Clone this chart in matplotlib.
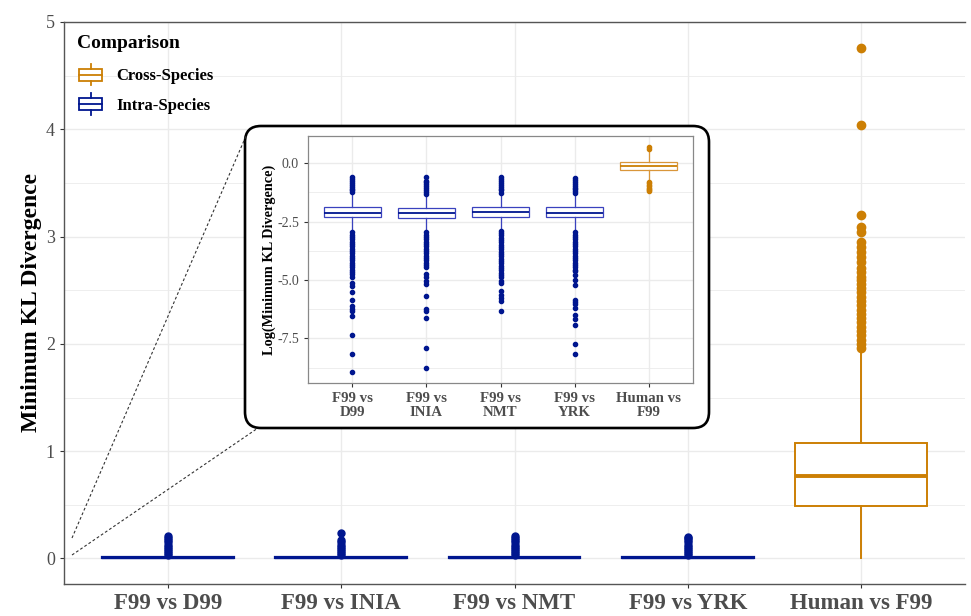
import matplotlib
matplotlib.use("Agg")
import matplotlib.pyplot as plt
from matplotlib.patches import Patch, Rectangle, FancyBboxPatch
from matplotlib.lines import Line2D
from matplotlib.legend_handler import HandlerBase
from matplotlib.ticker import MultipleLocator

plt.rcParams['font.family'] = ['Liberation Serif', 'DejaVu Serif']
plt.rcParams['axes.unicode_minus'] = False

# ---- data ----
categories = ["F99 vs D99", "F99 vs INIA", "F99 vs NMT", "F99 vs YRK", "Human vs F99"]
inset_labels = ["F99 vs\nD99", "F99 vs\nINIA", "F99 vs\nNMT", "F99 vs\nYRK", "Human vs\nF99"]
groups = ["Intra-Species", "Intra-Species", "Intra-Species", "Intra-Species", "Cross-Species"]

# main panel: minimum KL divergence (linear)
kl_q1 = [0.004, 0.004, 0.005, 0.004, 0.49]
kl_med = [0.007, 0.007, 0.008, 0.007, 0.77]
kl_q3 = [0.012, 0.011, 0.013, 0.012, 1.08]
kl_lo = [0.0, 0.0, 0.0, 0.0, 0.0]
kl_hi = [0.025, 0.024, 0.026, 0.025, 1.94]
kl_out_d99 = [0.03, 0.05, 0.07, 0.09, 0.11, 0.13, 0.15, 0.17, 0.19, 0.21]
kl_out_inia = [0.03, 0.05, 0.07, 0.09, 0.11, 0.13, 0.15, 0.17, 0.24]
kl_out_nmt = [0.03, 0.05, 0.07, 0.09, 0.11, 0.13, 0.15, 0.17, 0.19, 0.21]
kl_out_yrk = [0.03, 0.05, 0.07, 0.09, 0.11, 0.13, 0.15, 0.17, 0.19, 0.20]
kl_out_human = [1.96, 2.00, 2.04, 2.08, 2.12, 2.16, 2.20, 2.24, 2.28, 2.32, 2.36,
                2.40, 2.44, 2.48, 2.52, 2.56, 2.60, 2.62, 2.67, 2.71, 2.76, 2.81,
                2.86, 2.90, 2.95, 3.04, 3.09, 3.20, 4.04, 4.76]
kl_out = [kl_out_d99, kl_out_inia, kl_out_nmt, kl_out_yrk, kl_out_human]

# inset: log10 of minimum KL divergence
log_q1 = [-2.32, -2.35, -2.28, -2.30, -0.29]
log_med = [-2.12, -2.14, -2.07, -2.12, -0.13]
log_q3 = [-1.88, -1.92, -1.85, -1.88, 0.04]
log_lo = [-2.92, -2.92, -2.85, -2.92, -0.76]
log_hi = [-1.25, -1.34, -1.29, -1.31, 0.50]
log_out_d99 = [-0.60, -0.68, -0.76, -0.84, -0.92, -1.00, -1.08, -1.16, -1.21,
               -2.95, -3.05, -3.15, -3.25, -3.35, -3.45, -3.55, -3.65, -3.75, -3.85,
               -3.95, -4.05, -4.15, -4.25, -4.35, -4.45, -4.55, -4.65, -4.75, -4.85,
               -5.13, -5.27, -5.51, -5.84, -6.13, -6.23, -6.31, -6.55, -7.37, -8.16, -8.93]
log_out_inia = [-0.57, -0.74, -0.82, -0.90, -0.98, -1.06, -1.14, -1.22, -1.31,
                -2.95, -3.05, -3.15, -3.25, -3.35, -3.45, -3.55, -3.65, -3.75, -3.85,
                -3.95, -4.05, -4.15, -4.25, -4.35, -4.42,
                -4.74, -4.85, -5.06, -5.17, -5.70, -6.23, -6.31, -6.63, -7.92, -8.76]
log_out_nmt = [-0.60, -0.68, -0.76, -0.84, -0.92, -1.00, -1.08, -1.16, -1.26,
               -2.88, -2.98, -3.08, -3.18, -3.28, -3.38, -3.48, -3.58, -3.68, -3.78,
               -3.88, -3.98, -4.08, -4.18, -4.28, -4.38, -4.48, -4.58, -4.68, -4.78, -4.85,
               -5.06, -5.13, -5.49, -5.63, -5.77, -5.91, -6.31]
log_out_yrk = [-0.64, -0.72, -0.80, -0.88, -0.96, -1.04, -1.12, -1.20, -1.28,
               -2.95, -3.05, -3.15, -3.25, -3.35, -3.45, -3.55, -3.65, -3.75, -3.85,
               -3.95, -4.05, -4.15, -4.25, -4.35, -4.45, -4.55, -4.63,
               -4.80, -4.99, -5.20, -5.84, -5.96, -6.03, -6.20, -6.48, -6.67, -6.94, -7.72, -8.16]
log_out_human = [0.61, 0.68, -0.80, -0.86, -0.92, -0.98, -1.04, -1.10, -1.16, -1.18]
log_out = [log_out_d99, log_out_inia, log_out_nmt, log_out_yrk, log_out_human]

colors = {"Cross-Species": "#CC7F04", "Intra-Species": "#00168F"}
light = {"Cross-Species": "#D9963A", "Intra-Species": "#3A42BE"}
GRID = "#EBEBEB"
TXT = "#4D4D4D"


def box_stats(q1, med, q3, lo, hi, out):
    return [dict(q1=a, med=b, q3=c, whislo=d, whishi=e, fliers=f)
            for a, b, c, d, e, f in zip(q1, med, q3, lo, hi, out)]


def draw_boxes(ax, stats, box_lw, med_lw, ms, edge, widths=0.76):
    for i, (st, g) in enumerate(zip(stats, groups)):
        c = colors[g]
        ax.bxp([st], positions=[i + 1], widths=widths, showcaps=False,
               patch_artist=True,
               boxprops=dict(facecolor="white", edgecolor=edge[g], linewidth=box_lw[i]),
               medianprops=dict(color=c, linewidth=med_lw[i], solid_capstyle="butt"),
               whiskerprops=dict(color=edge[g], linewidth=box_lw[i]),
               flierprops=dict(marker="o", markerfacecolor=c, markeredgecolor=c,
                               markersize=ms[i], linestyle="none"),
               zorder=3)


def style_axes(ax, major, minor):
    ax.set_facecolor("white")
    ax.yaxis.set_major_locator(MultipleLocator(major))
    ax.yaxis.set_minor_locator(MultipleLocator(minor))
    ax.grid(True, which="major", color=GRID, linewidth=1.0, zorder=0)
    ax.grid(True, which="minor", axis="y", color=GRID, linewidth=0.6, zorder=0)
    ax.set_axisbelow(True)
    ax.tick_params(which="minor", length=0)
    ax.tick_params(which="major", length=3, color="#333333", width=0.8)


class HandlerBox(HandlerBase):
    def create_artists(self, legend, orig_handle, xdescent, ydescent, width,
                       height, fontsize, trans):
        c = orig_handle.get_edgecolor()
        x0 = -xdescent
        ymid = -ydescent + height / 2
        bh = height * 0.55
        wh = height * 0.5
        rect = Rectangle((x0, ymid - bh / 2), width, bh, facecolor="white",
                         edgecolor=c, linewidth=1.3, transform=trans)
        med = Line2D([x0, x0 + width], [ymid, ymid], color=c, lw=1.3, transform=trans)
        xm = x0 + width / 2
        w1 = Line2D([xm, xm], [ymid - wh, ymid - bh / 2], color=c, lw=1.3, transform=trans)
        w2 = Line2D([xm, xm], [ymid + bh / 2, ymid + wh], color=c, lw=1.3, transform=trans)
        return [rect, med, w1, w2]


W, H = 971, 616
fig = plt.figure(figsize=(W / 100, H / 100), dpi=100)
fig.patch.set_facecolor("white")

# ---- main panel ----
ax = fig.add_axes([64 / W, 1 - 584 / H, (965 - 64) / W, (584 - 22) / H])
style_axes(ax, 1, 0.5)
main_stats = box_stats(kl_q1, kl_med, kl_q3, kl_lo, kl_hi, kl_out)
draw_boxes(ax, main_stats, box_lw=[1.6, 1.6, 1.6, 1.6, 1.4],
           med_lw=[1.6, 1.6, 1.6, 1.6, 2.8], ms=[5, 5, 5, 5, 6],
           edge=colors)
ax.set_xlim(0.4, 5.6)
ax.set_ylim(-0.238, 5.0)
ax.set_xticks(range(1, 6))
ax.set_xticklabels(categories, fontsize=16.5, fontweight="bold", color=TXT)
ax.tick_params(axis="y", labelsize=13, labelcolor=TXT)
ax.set_ylabel("Minimum KL Divergence", fontsize=17, fontweight="bold", labelpad=3)
ax.spines["right"].set_visible(False)
for s in ["left", "bottom", "top"]:
    ax.spines[s].set_color("#555555")
    ax.spines[s].set_linewidth(1.0)

handles = [Patch(edgecolor=colors["Cross-Species"], facecolor="white", label="Cross-Species"),
           Patch(edgecolor=colors["Intra-Species"], facecolor="white", label="Intra-Species")]
leg = ax.legend(handles=handles, handler_map={Patch: HandlerBox()},
                loc="upper left",
                bbox_to_anchor=(79 / W, 1 - 64 / H), bbox_transform=fig.transFigure,
                frameon=False, prop=dict(size=12, weight="bold"),
                handlelength=1.4, handleheight=1.6, handletextpad=0.85,
                labelspacing=0.48, borderaxespad=0, borderpad=0)
fig.text(77 / W, 1 - 43 / H, "Comparison", fontsize=14, fontweight="bold",
         ha="left", va="center")

# ---- overlay: zoom frame and connector lines (pixel coordinates) ----
ov = fig.add_axes([0, 0, 1, 1], zorder=2)
ov.set_xlim(0, W)
ov.set_ylim(H, 0)
ov.axis("off")
ov.plot([72, 246], [538, 136], color="#333333", lw=0.8, ls=(0, (2.5, 2)))
ov.plot([72, 258], [555, 428], color="#333333", lw=0.8, ls=(0, (2.5, 2)))
frame = FancyBboxPatch((245, 126), 464, 302,
                       boxstyle="round,pad=0,rounding_size=16",
                       facecolor="white", edgecolor="black", linewidth=1.9)
ov.add_patch(frame)

# ---- inset ----
axi = fig.add_axes([308 / W, 1 - 383 / H, (693 - 308) / W, (383 - 136) / H], zorder=3)
style_axes(axi, 2.5, 1.25)
inset_stats = box_stats(log_q1, log_med, log_q3, log_lo, log_hi, log_out)
draw_boxes(axi, inset_stats, box_lw=[0.9] * 5, med_lw=[1.3] * 5, ms=[3] * 5,
           edge=light)
axi.set_xlim(0.4, 5.6)
axi.set_ylim(-9.41, 1.17)
axi.set_xticks(range(1, 6))
axi.set_xticklabels(inset_labels, fontsize=10.7, fontweight="bold", color=TXT,
                    linespacing=1.1)
axi.tick_params(axis="y", labelsize=10, labelcolor=TXT)
axi.set_ylabel("Log(Minimum KL Divergence)", fontsize=10.3, fontweight="bold", labelpad=1)
for s in axi.spines.values():
    s.set_color("#888888")
    s.set_linewidth(0.9)

fig.savefig("out.png", dpi=100, facecolor="white")
